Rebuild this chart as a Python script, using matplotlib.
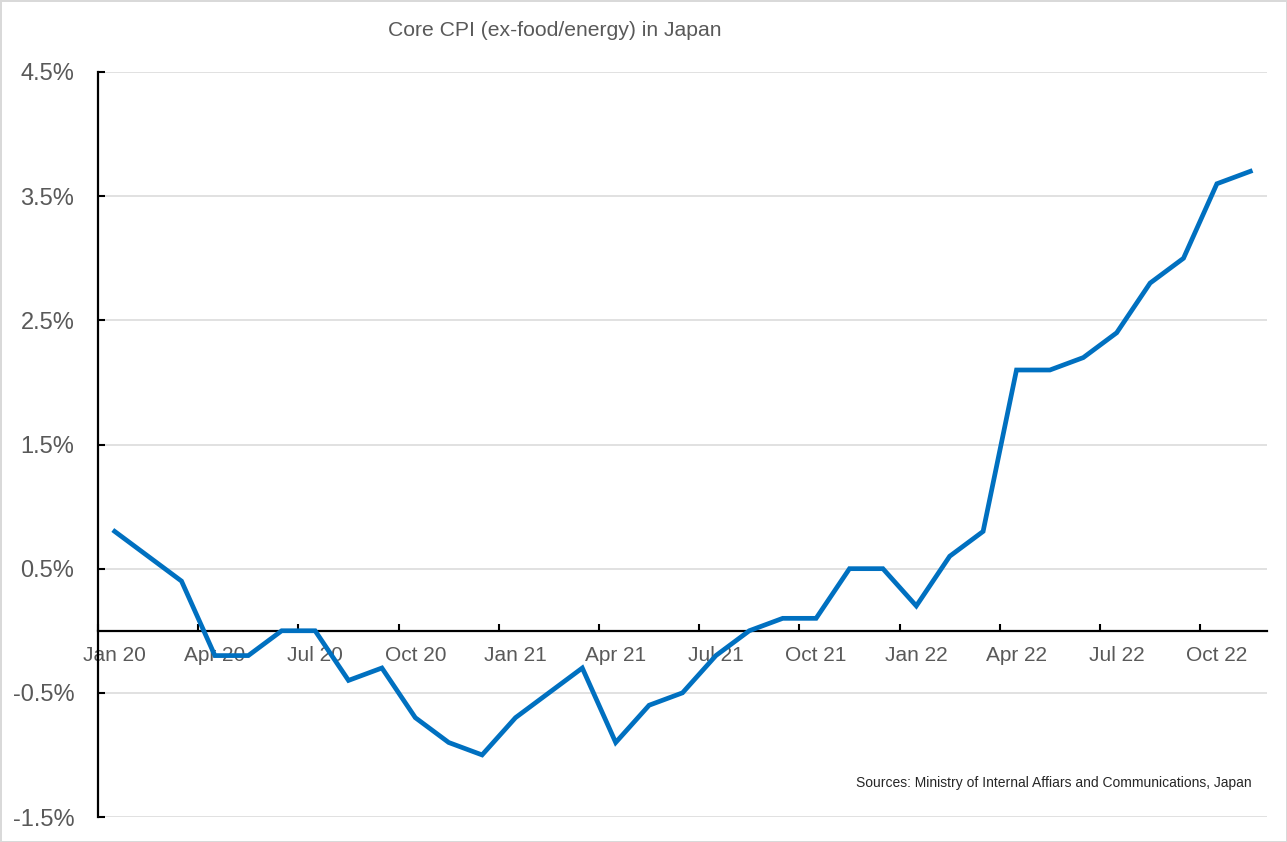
import numpy as np
import matplotlib.pyplot as plt

# monthly core CPI (ex-food/energy), y/y %, Jan 2020 - Nov 2022
months = ['Jan 20', 'Feb 20', 'Mar 20', 'Apr 20', 'May 20', 'Jun 20',
          'Jul 20', 'Aug 20', 'Sep 20', 'Oct 20', 'Nov 20', 'Dec 20',
          'Jan 21', 'Feb 21', 'Mar 21', 'Apr 21', 'May 21', 'Jun 21',
          'Jul 21', 'Aug 21', 'Sep 21', 'Oct 21', 'Nov 21', 'Dec 21',
          'Jan 22', 'Feb 22', 'Mar 22', 'Apr 22', 'May 22', 'Jun 22',
          'Jul 22', 'Aug 22', 'Sep 22', 'Oct 22', 'Nov 22']
core_cpi = [0.8, 0.6, 0.4, -0.2, -0.2, 0.0,
            0.0, -0.4, -0.3, -0.7, -0.9, -1.0,
            -0.7, -0.5, -0.3, -0.9, -0.6, -0.5,
            -0.2, 0.0, 0.1, 0.1, 0.5, 0.5,
            0.2, 0.6, 0.8, 2.1, 2.1, 2.2,
            2.4, 2.8, 3.0, 3.6, 3.7]
y_ticks = [-1.5, -0.5, 0.5, 1.5, 2.5, 3.5, 4.5]

plt.rcParams['font.family'] = ['Liberation Sans', 'DejaVu Sans']
grey = '#595959'

fig = plt.figure(figsize=(12.87, 8.42), dpi=100)
fig.patch.set_edgecolor('#d9d9d9')
fig.patch.set_linewidth(2)
ax = fig.add_axes([98/1287, 1 - 817/842, (1267 - 98)/1287, (817 - 72)/842])

x = np.arange(len(months))
ax.plot(x, core_cpi, color='#0070C0', lw=3.4, solid_joinstyle='miter', zorder=3)

ax.set_xlim(-0.5, len(months) - 0.5)
ax.set_ylim(-1.5, 4.5)

# y axis
ax.set_yticks(y_ticks)
ax.set_yticklabels([f'{v:.1f}%' for v in y_ticks])
ax.tick_params(axis='y', direction='in', length=5, width=1.5, pad=17,
               labelsize=17, labelcolor=grey)
ax.grid(axis='y', color='#dcdcdc', lw=1.2, zorder=0)

# x axis through zero, ticks between categories, labels on quarter months
ax.spines['bottom'].set_position(('data', 0))
ax.spines['bottom'].set_linewidth(1.6)
ax.spines['left'].set_linewidth(1.6)
ax.spines['top'].set_visible(False)
ax.spines['right'].set_visible(False)
ax.set_xticks(np.arange(-0.5, len(months) - 1, 3))
ax.set_xticklabels([])
ax.set_xticks(x[::3], minor=True)
ax.set_xticklabels(months[::3], minor=True)
ax.tick_params(axis='x', which='major', direction='in', length=5, width=1.5)
ax.tick_params(axis='x', which='minor', length=0, pad=11,
               labelsize=15, labelcolor=grey)

fig.text(555/1287, 1 - 30/842, 'Core CPI (ex-food/energy) in Japan',
         ha='center', va='center', fontsize=15.2, color=grey)
fig.text(1252/1287, 1 - 783/842,
         'Sources: Ministry of Internal Affiars and Communications, Japan',
         ha='right', va='center', fontsize=10, color='#262626')

fig.savefig('out.png', dpi=100)
